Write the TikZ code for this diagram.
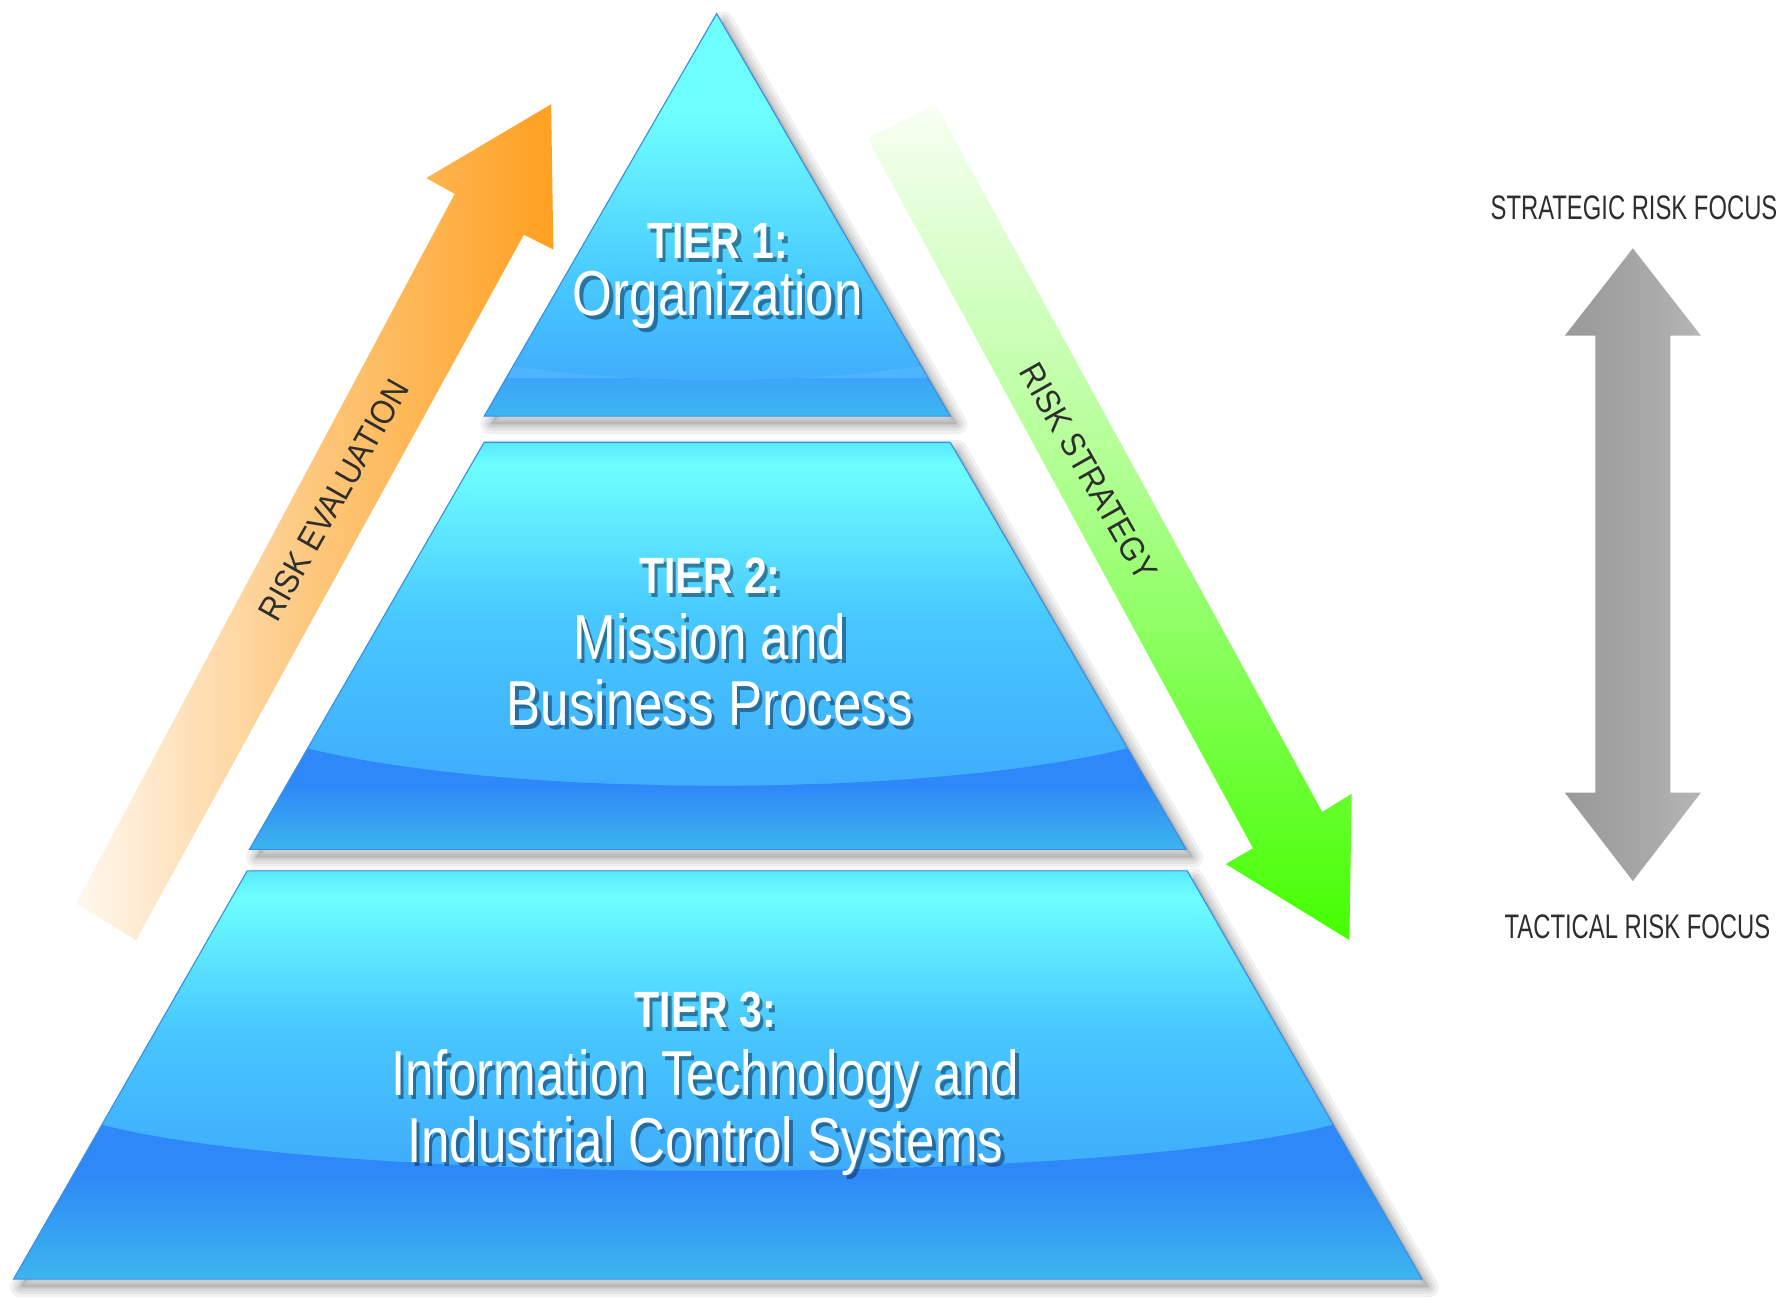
\documentclass[tikz,border=0pt]{standalone}
\usepackage{fontspec}
\setmainfont{Liberation Sans}
\newfontfamily\tierfont[FakeStretch=0.805]{Liberation Sans}
\newfontfamily\sidefont[FakeStretch=0.70]{Liberation Sans}
\newfontfamily\arrfont[FakeStretch=0.90]{Liberation Sans}
\definecolor{cyEdge}{HTML}{58E6FF}
\definecolor{cyTop}{HTML}{6EFFFF}
\definecolor{cyMid}{HTML}{48C8FF}
\definecolor{cyLow}{HTML}{3EAAFB}
\definecolor{cyBand}{HTML}{2E88F7}
\definecolor{cyBot}{HTML}{3CB6EE}
\definecolor{tierLine}{HTML}{3A8EE6}
\definecolor{orgA}{HTML}{FFF8F0}
\definecolor{orgB}{HTML}{FDC77C}
\definecolor{orgC}{HTML}{FFA020}
\definecolor{grnA}{HTML}{F8FFF4}
\definecolor{grnB}{HTML}{A6FF84}
\definecolor{grnC}{HTML}{44FF00}
\definecolor{grayA}{HTML}{999999}
\definecolor{grayB}{HTML}{A5A5A5}
\definecolor{grayC}{HTML}{B5B5B5}
\definecolor{labc}{HTML}{2E2E2E}
\definecolor{shadowc}{HTML}{0A2440}
\newcommand{\boldT}{\tierfont\bfseries\fontsize{45}{50}\selectfont}
\newcommand{\regT}{\tierfont\fontsize{56}{60}\selectfont}
\newcommand{\tiertxt}[5]{%
  \node[anchor=base, inner sep=0pt] (#1) at ({#2},{-#3})
    {#4\rlap{\hspace*{3pt}\raisebox{-3.5pt}{\pgfsetfillopacity{0.5}\color{shadowc}#5}}\pgfsetfillopacity{1}\color{white}#5};}
\newcommand{\tiershadow}[1]{%
  \fill[black, opacity=0.10, shift={(6,-7)}] #1;
  \foreach \lw in {18,12,7,3}{%
    \draw[black, opacity=0.055, line width=\lw pt, line join=round, shift={(6,-7)}] #1;}}
\tikzset{tieredge/.style={draw=tierLine, line width=1pt, line join=miter}}
\begin{document}
\begin{tikzpicture}[x=1pt,y=1pt]
\useasboundingbox (0,0) rectangle (1568,-1149);
\fill[white] (0,0) rectangle (1568,-1149);

% ---------- side arrows ----------
\shade[left color=orgA, right color=orgC, middle color=orgB]
  (67,-797) -- (401,-171) -- (376,-157) -- (486,-92) -- (488,-220) -- (462,-207) -- (120,-829) -- cycle;
\shade[shading angle=29, top color=grnA, bottom color=grnC, middle color=grnB]
  (765,-122) -- (825,-92) -- (1166,-716) -- (1192,-700) -- (1190,-829) -- (1081,-762) -- (1105,-748) -- cycle;
\shade[left color=grayA, right color=grayC, middle color=grayB]
  (1440,-219) -- (1500,-296) -- (1473,-296) -- (1473,-699) -- (1500,-699) -- (1440,-777)
  -- (1380,-699) -- (1407,-699) -- (1407,-296) -- (1380,-296) -- cycle;

% ---------- shadows ----------
\tiershadow{(632,-12) -- (838,-367) -- (427,-367) -- cycle}
\tiershadow{(427,-390) -- (838,-390) -- (1046,-749) -- (220,-749) -- cycle}
\tiershadow{(218,-768) -- (1047,-768) -- (1254,-1128) -- (12,-1128) -- cycle}

% ---------- tier 1 ----------
\begin{scope}
\clip (632,-12) -- (838,-367) -- (427,-367) -- cycle;
\fill[cyTop] (400,-10) rectangle (860,-100);
\shade[top color=cyTop, bottom color=cyMid] (400,-100) rectangle (860,-250);
\shade[top color=cyMid, bottom color=cyLow] (400,-250) rectangle (860,-345);
\begin{scope}
\clip (400,-323) -- (452,-323) .. controls (560,-339) and (704,-339) .. (812,-323) -- (860,-323) -- (860,-370) -- (400,-370) -- cycle;
\fill[white, opacity=0.08] (400,-320) rectangle (860,-345);
\shade[top color=cyLow!85!cyBand, bottom color=cyBot] (400,-334) rectangle (860,-368);
\end{scope}
\end{scope}
\draw[tieredge] (632,-12) -- (838,-367) -- (427,-367) -- cycle;

% ---------- tier 2 ----------
\begin{scope}
\clip (427,-390) -- (838,-390) -- (1046,-749) -- (220,-749) -- cycle;
\shade[top color=cyEdge, bottom color=cyTop] (200,-389) rectangle (1060,-410);
\shade[top color=cyTop, bottom color=cyMid] (200,-410) rectangle (1060,-545);
\shade[top color=cyMid, bottom color=cyLow] (200,-545) rectangle (1060,-705);
\begin{scope}
\clip (200,-660) -- (271,-660) .. controls (450,-704) and (815,-704) .. (994,-660) -- (1060,-660) -- (1060,-752) -- (200,-752) -- cycle;
\fill[cyBand] (200,-655) rectangle (1060,-692);
\shade[top color=cyBand, bottom color=cyBot] (200,-692) rectangle (1060,-750);
\end{scope}
\end{scope}
\draw[tieredge] (427,-390) -- (838,-390) -- (1046,-749) -- (220,-749) -- cycle;

% ---------- tier 3 ----------
\begin{scope}
\clip (218,-768) -- (1047,-768) -- (1254,-1128) -- (12,-1128) -- cycle;
\shade[top color=cyEdge, bottom color=cyTop] (0,-767) rectangle (1270,-790);
\shade[top color=cyTop, bottom color=cyMid] (0,-790) rectangle (1270,-905);
\shade[top color=cyMid, bottom color=cyLow] (0,-905) rectangle (1270,-1040);
\begin{scope}
\clip (0,-992) -- (90,-992) .. controls (300,-1046) and (965,-1046) .. (1175,-992) -- (1270,-992) -- (1270,-1130) -- (0,-1130) -- cycle;
\fill[cyBand] (0,-985) rectangle (1270,-1034);
\shade[top color=cyBand, bottom color=cyBot] (0,-1034) rectangle (1270,-1129);
\end{scope}
\end{scope}
\draw[tieredge] (218,-768) -- (1047,-768) -- (1254,-1128) -- (12,-1128) -- cycle;

% ---------- tier texts ----------
\tiertxt{t1a}{633}{228}{\boldT}{TIER 1:}
\tiertxt{t1b}{633}{278}{\regT}{Organization}
\tiertxt{t2a}{626}{523}{\boldT}{TIER 2:}
\tiertxt{t2b}{626}{582}{\regT}{Mission and}
\tiertxt{t2c}{626}{640}{\regT}{Business Process}
\tiertxt{t3a}{622}{906}{\boldT}{TIER 3:}
\tiertxt{t3b}{622}{966}{\regT}{Information Technology and}
\tiertxt{t3c}{622}{1025}{\regT}{Industrial Control Systems}

% ---------- arrow labels ----------
\node[rotate=60.5, inner sep=0pt, text=labc] (reval) at (294,-441)
  {\arrfont\fontsize{30}{32}\selectfont RISK EVALUATION};
\node[rotate=-60.5, inner sep=0pt, text=labc] (rstrat) at (960,-416)
  {\arrfont\fontsize{30}{32}\selectfont RISK STRATEGY};

% ---------- focus labels ----------
\node[anchor=base, inner sep=0pt, text=labc] (strat) at (1441,-194)
  {\sidefont\fontsize{30}{32}\selectfont STRATEGIC RISK FOCUS};
\node[anchor=base, inner sep=0pt, text=labc] (tact) at (1444,-828)
  {\sidefont\fontsize{30}{32}\selectfont TACTICAL RISK FOCUS};
\end{tikzpicture}
\end{document}
